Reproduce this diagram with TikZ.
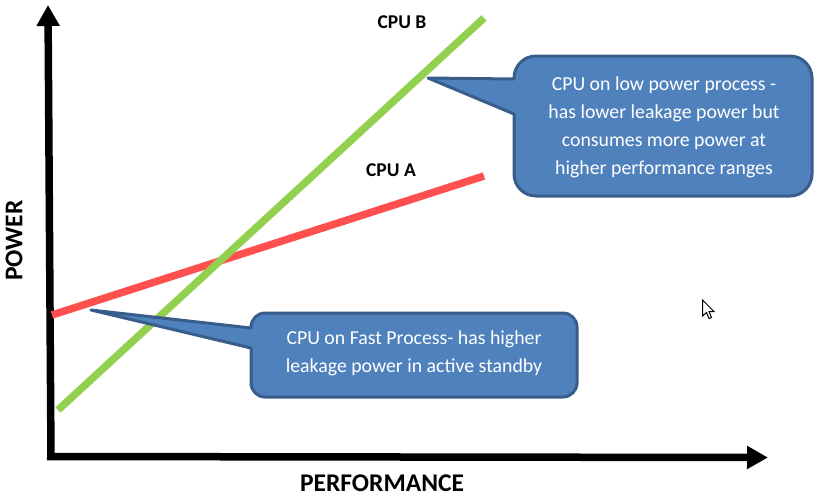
\documentclass[tikz,border=0pt]{standalone}
\usepackage{fontspec}
\setmainfont{Carlito}
\usetikzlibrary{arrows.meta}
\definecolor{boxfill}{HTML}{4F81BD}
\definecolor{boxline}{HTML}{385D8A}
\definecolor{cpua}{HTML}{FF5050}
\definecolor{cpub}{HTML}{92D050}
\tikzset{
  axisline/.style={line width=7.5pt,black,-{Triangle[length=21pt,width=22pt]}},
  curveline/.style={line width=7.5pt},
  bubble/.style={draw=boxline,fill=boxfill,line width=3pt,line join=round},
  bubbletext/.style={text=white,align=center,font=\fontsize{19.8}{28}\selectfont},
  cpulabel/.style={font=\fontsize{19.5}{22}\selectfont\bfseries},
  axislabel/.style={inner sep=0pt,font=\fontsize{25.5}{28}\selectfont\bfseries}
}
\begin{document}
\begin{tikzpicture}[x=1pt,y=-1pt]
\useasboundingbox (0,0) rectangle (824,496);
\coordinate (ybot) at (51,459);
\coordinate (ytop) at (48,5);
\coordinate (xleft) at (47,456.5);
\coordinate (xright) at (768,457.5);
\coordinate (aL) at (52,315);
\coordinate (aR) at (484,176);
\coordinate (bL) at (58,410);
\coordinate (bR) at (484,18);
\draw[axisline] (ybot) -- (ytop);
\draw[axisline] (xleft) -- (xright);
\draw[curveline,cpua] (aL) -- (aR);
\draw[curveline,cpub] (bL) -- (bR);
% upper callout
\draw[bubble] (428,78) -- (514,79) -- (514,78) arc[start angle=180,end angle=270,radius=22] -- (790,56)
  arc[start angle=270,end angle=360,radius=22] -- (812,174)
  arc[start angle=0,end angle=90,radius=22] -- (536,196)
  arc[start angle=90,end angle=180,radius=22] -- (514,114) -- cycle;
% lower callout
\draw[bubble] (91,310) -- (251,328) -- (251,327) arc[start angle=180,end angle=270,radius=14] -- (563,313)
  arc[start angle=270,end angle=360,radius=14] -- (577,383)
  arc[start angle=0,end angle=90,radius=14] -- (265,397)
  arc[start angle=90,end angle=180,radius=14] -- (251,348) -- cycle;
\node[bubbletext] (t1) at (664,127.5) {CPU on low power process -\\has lower leakage power but\\consumes more power at\\higher performance ranges};
\node[bubbletext] (t2) at (414,353.5) {CPU on Fast Process- has higher\\leakage power in active standby};
\node[cpulabel] (lb) at (402,22) {CPU B};
\node[cpulabel] (la) at (391,170) {CPU A};
\node[axislabel,rotate=90] (py) at (14,240.5) {POWER};
\node[axislabel] (px) at (382,483) {PERFORMANCE};
% mouse pointer
\draw[black,fill=white,line width=1pt,line join=miter] (702.5,300) -- (702.5,316) -- (706.5,312.5) -- (709,318.5) -- (711.5,317.5) -- (709,311.5) -- (714,311.5) -- cycle;
\end{tikzpicture}
\end{document}
